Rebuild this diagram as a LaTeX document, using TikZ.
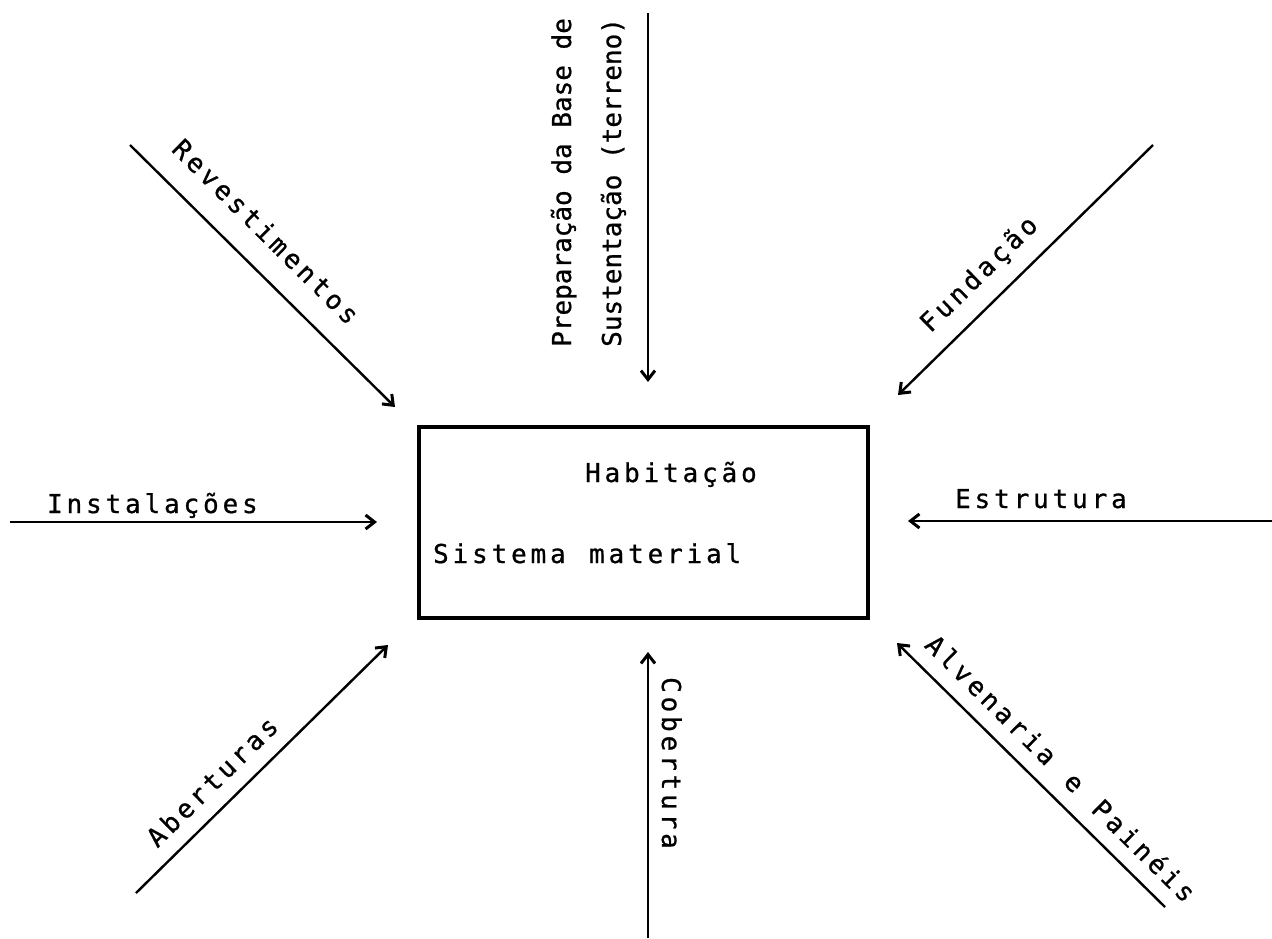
\documentclass[tikz,border=0pt]{standalone}
\usepackage{fontspec}
\usetikzlibrary{arrows.meta}
% typewriter-like lettering, slightly heavier strokes
\newfontfamily\typefont[FakeBold=0.8]{DejaVu Sans Mono}
% set a word on a fixed typewriter pitch: \typed{pitch}{text}, spaces written as ~
\makeatletter
\newcommand\typed[2]{\def\typed@w{#1}\typed@loop#2\typed@end}
\def\typed@end{\typed@end}
\def\typed@loop#1{\ifx#1\typed@end\else\makebox[\typed@w][c]{#1}\expandafter\typed@loop\fi}
\makeatother
\newcommand\tw[1]{\typed{19.5pt}{#1}}
\begin{document}
\begin{tikzpicture}[x=1pt,y=-1pt,
  arr/.style={line width=2.4pt, -{Straight Barb[length=9pt,width=14pt,line width=3pt]}},
  lbl/.style={font=\typefont\fontsize{26}{30}\selectfont, inner sep=0pt, anchor=base west},
  frame/.style={draw, line width=3.8pt, inner sep=0pt, anchor=north west,
                minimum width=449pt, minimum height=191pt}]
\useasboundingbox (0,0) rectangle (1272,938);

% central system box
\node[frame] (hab) at (417,425) {};
\node[lbl] (habt) at (583,482) {\tw{Habitação}};
\node[lbl] (sist) at (431,563) {\tw{Sistema~material}};

% end points of the incoming arrows
\coordinate (rev0) at (130,145);  \coordinate (rev1) at (395,407);
\coordinate (prep0) at (648,13);  \coordinate (prep1) at (648,382);
\coordinate (fun0) at (1153,145); \coordinate (fun1) at (898,395);
\coordinate (ins0) at (10,522);   \coordinate (ins1) at (377,522);
\coordinate (est0) at (1272,521); \coordinate (est1) at (908,521);
\coordinate (abe0) at (136,893);  \coordinate (abe1) at (388,645);
\coordinate (cob0) at (648,938);  \coordinate (cob1) at (648,652);
\coordinate (alv0) at (1165,907); \coordinate (alv1) at (897,643);

\draw[arr] (rev0) -- (rev1);
\draw[arr] (prep0) -- (prep1);
\draw[arr] (fun0) -- (fun1);
\draw[arr] (ins0) -- (ins1);
\draw[arr] (est0) -- (est1);
\draw[arr] (abe0) -- (abe1);
\draw[arr] (cob0) -- (cob1);
\draw[arr] (alv0) -- (alv1);

% labels
\node[lbl, rotate=-44.7] (revl) at (169,149) {\tw{Revestimentos}};
\node[lbl, rotate=90] (prepl1) at (571,347) {Preparação da Base de};
\node[lbl, rotate=90] (prepl2) at (621,347) {Sustentação (terreno)};
\node[lbl, rotate=44.4] (funl) at (929,335) {\tw{Fundação}};
\node[lbl] (insl) at (45,513) {\tw{Instalações}};
\node[lbl] (estl) at (953,508) {\tw{Estrutura}};
\node[lbl, rotate=44.5] (abel) at (156,850) {\tw{Aberturas}};
\node[lbl, rotate=-90] (cobl) at (662,675) {\tw{Cobertura}};
\node[lbl, rotate=-44.6] (alvl) at (922,645) {\tw{Alvenaria~e~Painéis}};
\end{tikzpicture}
\end{document}
